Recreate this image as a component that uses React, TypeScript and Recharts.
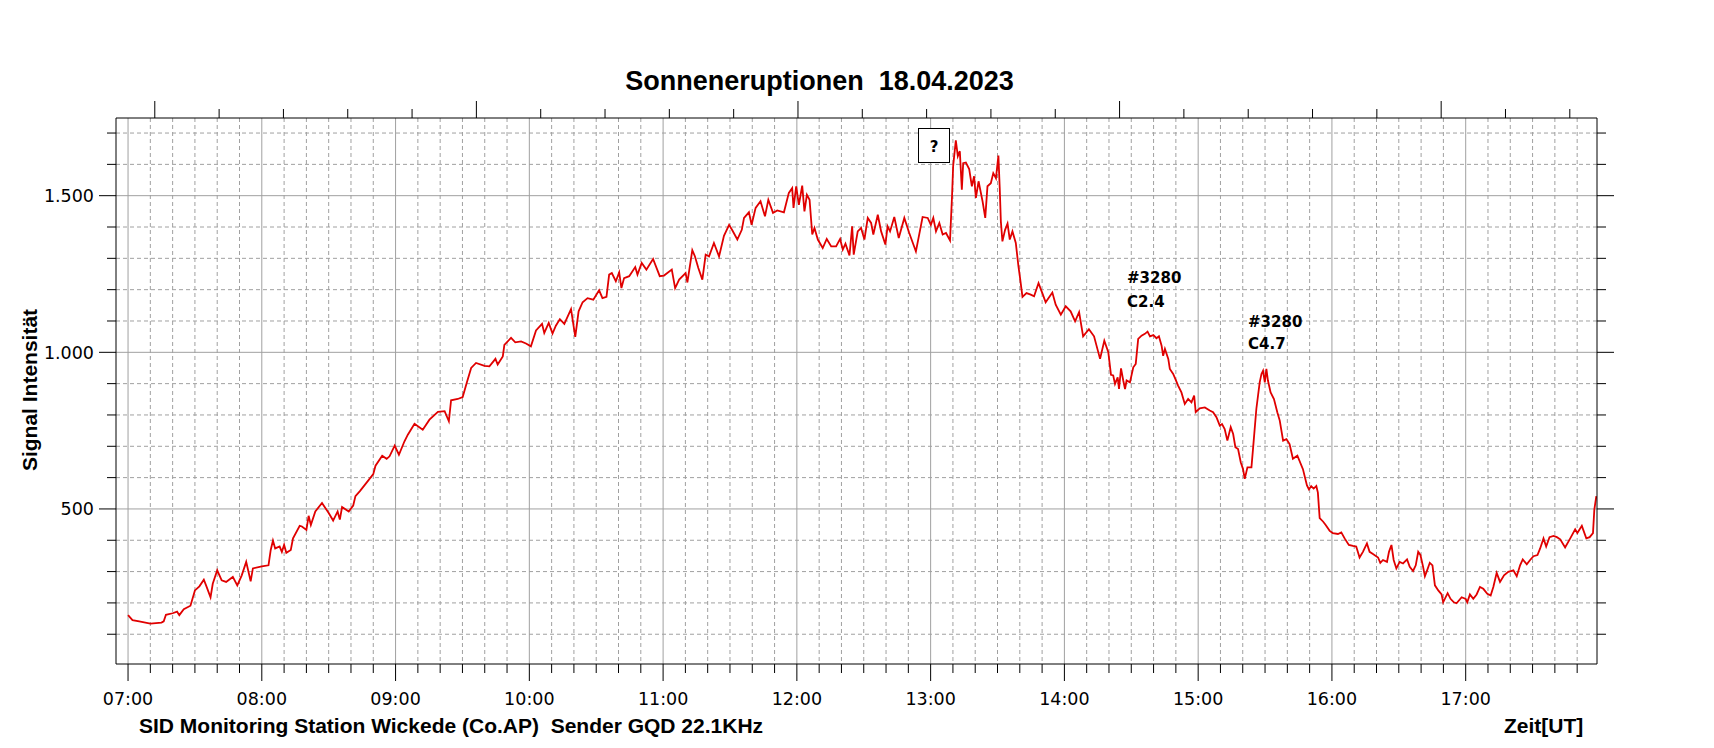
import { LineChart, Line, XAxis, YAxis, CartesianGrid } from 'recharts'

// minutes after 07:00 UT, signal value
const MORNING: [number, number][] = [
  [0, 161], [2, 145], [5, 141], [10, 134], [15, 137], [16, 141], [17, 162], [20, 167], [22, 172], [23, 161],
  [25, 180], [28, 191], [30, 240], [32, 253], [34, 274], [35, 256], [37, 218], [38, 261], [40, 304], [42, 272],
  [44, 267], [47, 283], [49, 256], [51, 288], [53, 331], [55, 269], [56, 310], [60, 317], [63, 320], [64, 369],
  [65, 399], [66, 374], [68, 380], [69, 363], [70, 385], [71, 360], [73, 369], [74, 406], [77, 446], [78, 444],
  [80, 433], [81, 478], [82, 449], [84, 492], [87, 519], [90, 487], [92, 463], [94, 492], [95, 466], [96, 506],
  [99, 492], [101, 511], [102, 541], [104, 557], [107, 584], [110, 611], [111, 638], [114, 670], [116, 660],
]

const FORENOON: [number, number][] = [
  [117.3, 668], [119.6, 702], [121.5, 673], [124, 716], [125.5, 737], [128.5, 772], [132.2, 753], [135.2, 785],
  [139, 810], [142, 812], [143.9, 780], [144.9, 847], [147.9, 851], [150.1, 857], [151.9, 902], [153.9, 950],
  [156.1, 966], [159.9, 957], [162.1, 955], [164.8, 979], [165.8, 961], [168.1, 987], [168.8, 1024], [171.8, 1046],
  [173.7, 1032], [176.3, 1035], [178.5, 1028], [180.7, 1019], [183, 1070], [185.7, 1091], [186.7, 1062], [188.7, 1094],
  [190.4, 1060], [191.9, 1085], [193.7, 1106], [195.7, 1091], [198.7, 1138], [200.6, 1049], [202.1, 1131], [203.9, 1160],
  [206.1, 1173], [208.7, 1168], [211.3, 1198], [212.8, 1173], [214.6, 1177], [215.8, 1248], [217, 1253], [218.8, 1227],
  [220.3, 1255], [221.3, 1205], [222.5, 1237], [224.8, 1243], [227.5, 1272], [228.5, 1248], [230.4, 1285], [232.5, 1264],
  [235.5, 1298], [238.5, 1243], [240.4, 1245], [243.9, 1264], [245.4, 1205], [247.2, 1232], [250.1, 1253], [250.9, 1223],
  [253.1, 1326], [254.3, 1306], [255.8, 1269], [257.6, 1232], [259.1, 1312], [260.6, 1306], [262.8, 1349], [265.1, 1306],
  [267.3, 1372], [269.6, 1407], [271.1, 1389], [273.3, 1360], [275.3, 1391], [276.3, 1429], [278.5, 1447], [279.7, 1407],
  [281.5, 1461], [283.7, 1482], [285.7, 1434], [287.2, 1487], [289.3, 1445], [291.2, 1453], [294.2, 1447], [296.4, 1509],
]

const MIDDAY: [number, number][] = [
  [297.9, 1524], [298.5, 1461], [299.7, 1530], [300.9, 1471], [302.4, 1532], [303.4, 1450], [304.5, 1503], [305.7, 1487],
  [306.9, 1376], [307.9, 1397], [309.4, 1360], [311.6, 1333], [313.4, 1362], [315.4, 1338], [317.6, 1338], [319.4, 1362],
  [320.6, 1328], [321.8, 1347], [323.6, 1309], [324.8, 1402], [325.5, 1312], [327.3, 1386], [328.8, 1397], [330.3, 1360],
  [331.8, 1429], [333.3, 1413], [334.3, 1376], [336.3, 1439], [337.8, 1386], [339.7, 1344], [340.7, 1402], [341.8, 1386],
  [343.7, 1432], [345.7, 1365], [348.2, 1429], [350.4, 1381], [353.4, 1322], [356.4, 1432], [358.7, 1429], [360.1, 1407],
  [361.2, 1429], [362.4, 1386], [363.9, 1413], [365.4, 1376], [366.9, 1381], [368.7, 1357], [369.6, 1498], [370.1, 1594],
  [371.3, 1677], [372.2, 1626], [373.1, 1642], [374, 1519], [374.6, 1604], [375.8, 1606], [377.3, 1585], [378.5, 1530],
  [379.5, 1562], [380.3, 1493], [381.5, 1546], [383.3, 1482], [384.5, 1429], [385.5, 1530], [387, 1540], [388.1, 1572],
  [389.3, 1556], [390.4, 1628], [391, 1524], [391.5, 1418], [392.2, 1354], [393.4, 1391], [394.5, 1411], [395.5, 1360],
  [396.7, 1386], [398.2, 1349], [399.4, 1274], [400, 1243], [401.2, 1177], [403, 1189], [404.9, 1184], [406.4, 1179],
  [408.4, 1221], [410.1, 1189], [411.6, 1160], [414.6, 1191], [416.1, 1152], [418.4, 1120], [420.6, 1147], [422.8, 1131],
  [424.8, 1099], [426.6, 1128], [428.4, 1051], [431, 1074], [433.3, 1051],
]

const FLARES: [number, number][] = [
  [436, 979], [437.9, 1037], [439.7, 1000], [440.9, 928], [441.9, 926], [442.7, 899], [443.9, 920], [444.5, 883],
  [445.4, 949], [446.4, 910], [447.2, 883], [447.9, 910], [449.4, 904], [450.9, 952], [452, 963], [453.1, 1043],
  [454.6, 1053], [456.1, 1059], [457.3, 1066], [458.4, 1051], [459.9, 1055], [461.3, 1045], [462.4, 1051], [463.6, 1021],
  [464.3, 989], [465.1, 1011], [466.6, 979], [467.3, 947], [468.8, 931], [469.9, 913], [471, 894], [472.5, 872],
  [474, 835], [475.5, 851], [477, 840], [478.2, 862], [478.9, 809], [480.7, 821], [483, 824], [485.2, 814],
  [486.7, 809], [488.2, 793], [489.7, 766], [490.7, 771], [491.9, 755], [493.1, 718], [494.6, 761], [495.7, 739],
  [496.7, 697], [497.9, 691], [499.1, 649], [500.1, 628], [500.9, 596], [502.1, 633], [503.9, 633], [504.6, 691],
  [506.1, 819], [507.6, 904], [508.4, 931], [509.1, 941], [509.9, 904], [510.6, 947], [511.3, 910], [512.5, 872],
  [514, 851], [515.5, 809], [516.6, 782], [518.1, 718], [519.6, 723], [521, 707], [522.5, 660], [524.5, 670],
]

const EVENING: [number, number][] = [
  [527, 627], [528.8, 575], [529.7, 562], [530.7, 573], [531.8, 565], [533, 573], [533.7, 552], [534.5, 471],
  [536, 460], [537.2, 449], [539, 430], [540.4, 423], [542.7, 420], [544.2, 425], [545.7, 406], [547.6, 385],
  [549.4, 382], [550.9, 380], [552.4, 345], [553.9, 363], [555.7, 390], [556.9, 363], [558.4, 356], [560.7, 345],
  [561.7, 328], [562.9, 337], [564.7, 331], [565.6, 363], [566.7, 385], [567.7, 337], [568.9, 310], [570.4, 331],
  [571.9, 326], [573.7, 339], [574.9, 315], [576.4, 302], [577.6, 320], [578.7, 363], [579.7, 353], [580.9, 315],
  [581.7, 285], [582.7, 304], [583.9, 328], [585.1, 320], [586.2, 256], [587.7, 240], [589.2, 227], [589.9, 202],
  [591.9, 231], [593.2, 213], [594.7, 202], [595.9, 199], [598.2, 218], [600, 213], [600.7, 202], [601.9, 227],
  [603.4, 213], [604.9, 227], [606.4, 251], [607.9, 245], [609.7, 229], [611.2, 224], [612.4, 251], [613.9, 296],
  [615.4, 267], [617.2, 288], [619.1, 299], [621.4, 304], [622.9, 285], [624.4, 320], [625.6, 339], [627.4, 323],
  [628.9, 337], [630.4, 349], [632.2, 353], [633.4, 374], [634.9, 406], [636.1, 380], [637.6, 410], [639.4, 414],
  [640.9, 410], [642.4, 403], [644.6, 377], [646.9, 406], [649.1, 435], [650.1, 423], [652.1, 446], [654.1, 406],
  [655.6, 410], [657.1, 423], [657.7, 498], [658.6, 541],
]

const HOUR_LABELS = ['07:00', '08:00', '09:00', '10:00', '11:00', '12:00', '13:00', '14:00', '15:00', '16:00', '17:00']
const X_TICKS = Array.from({ length: 66 }, (_, i) => i * 10)
const X_MAJOR = X_TICKS.filter((t) => t % 60 === 0)
const X_MINOR = X_TICKS.filter((t) => t % 60 !== 0)
const Y_TICKS = [100, 200, 300, 400, 500, 600, 700, 800, 900, 1000, 1100, 1200, 1300, 1400, 1500, 1600, 1700]
const Y_MAJOR = [500, 1000, 1500]
const Y_MINOR = Y_TICKS.filter((v) => !Y_MAJOR.includes(v))
// top scale: unlabeled ticks every ~28.85 min, long one every fifth
const TOP_TICKS = Array.from({ length: 23 }, (_, i) => +(12 + i * 28.85).toFixed(2))
const TOP_MAJOR = TOP_TICKS.filter((_, i) => i % 5 === 0)

const data = [...MORNING, ...FORENOON, ...MIDDAY, ...FLARES, ...EVENING].map(([t, v]) => ({ t, v }))

const X_DOMAIN: [number, number] = [-5.4, 658.9]
const Y_DOMAIN: [number, number] = [5, 1748]
const GRID = '#a0a0a0'
const BOLD = '"Liberation Sans", Arial, sans-serif'
const VERDANA = '"DejaVu Sans", Verdana, sans-serif'

const fmtY = (v: number) =>
  v >= 1000 ? `${Math.floor(v / 1000)}.${String(v % 1000).padStart(3, '0')}` : String(v)

function BottomTick({ x, y, payload }: any) {
  const major = payload.value % 60 === 0
  return (
    <g>
      <line x1={x} y1={y} x2={x} y2={y + (major ? 17 : 9)} stroke="#000" />
      {major && (
        <text x={x} y={y + 41} textAnchor="middle" fontFamily={VERDANA} fontSize={17.5} fill="#000">
          {HOUR_LABELS[payload.value / 60]}
        </text>
      )}
    </g>
  )
}

function TopTick({ x, y, payload }: any) {
  const major = TOP_MAJOR.includes(payload.value)
  return <line x1={x} y1={y} x2={x} y2={y - (major ? 17 : 9)} stroke="#000" />
}

function LeftTick({ x, y, payload }: any) {
  const major = Y_MAJOR.includes(payload.value)
  return (
    <g>
      <line x1={x - (major ? 17 : 9)} y1={y} x2={x} y2={y} stroke="#000" />
      {major && (
        <text x={x - 22} y={y} dy="0.36em" textAnchor="end" fontFamily={VERDANA} fontSize={17.5} fill="#000">
          {fmtY(payload.value)}
        </text>
      )}
    </g>
  )
}

function RightTick({ x, y, payload }: any) {
  const major = Y_MAJOR.includes(payload.value)
  return <line x1={x} y1={y} x2={x + (major ? 17 : 9)} y2={y} stroke="#000" />
}

export default function App() {
  return (
    <div style={{ position: 'absolute', left: 0, top: 0, width: 1714, height: 748, background: '#fff' }}>
      <LineChart width={1714} height={748} data={data} margin={{ top: 117, right: 116, bottom: 83, left: 115 }}>
        <CartesianGrid verticalValues={X_MINOR} horizontalValues={Y_MINOR} stroke={GRID} strokeDasharray="4 3" />
        <CartesianGrid verticalValues={X_MAJOR} horizontalValues={Y_MAJOR} stroke={GRID} />
        <XAxis
          dataKey="t"
          type="number"
          domain={X_DOMAIN}
          allowDataOverflow
          ticks={X_TICKS}
          interval={0}
          height={1}
          tickSize={0}
          tickMargin={0}
          tickLine={false}
          axisLine={{ stroke: '#000' }}
          tick={BottomTick}
        />
        <XAxis
          xAxisId="top"
          orientation="top"
          dataKey="t"
          type="number"
          domain={X_DOMAIN}
          allowDataOverflow
          ticks={TOP_TICKS}
          interval={0}
          height={1}
          tickSize={0}
          tickMargin={0}
          tickLine={false}
          axisLine={{ stroke: '#000' }}
          tick={TopTick}
        />
        <YAxis
          type="number"
          domain={Y_DOMAIN}
          allowDataOverflow
          ticks={Y_TICKS}
          interval={0}
          width={1}
          tickSize={0}
          tickMargin={0}
          tickLine={false}
          axisLine={{ stroke: '#000' }}
          tick={LeftTick}
        />
        <YAxis
          yAxisId="right"
          orientation="right"
          type="number"
          domain={Y_DOMAIN}
          allowDataOverflow
          ticks={Y_TICKS}
          interval={0}
          width={1}
          tickSize={0}
          tickMargin={0}
          tickLine={false}
          axisLine={{ stroke: '#000' }}
          tick={RightTick}
        />
        <Line
          dataKey="v"
          type="linear"
          stroke="#e00000"
          strokeWidth={1.8}
          dot={false}
          isAnimationActive={false}
        />
      </LineChart>
      <svg width={1714} height={748} style={{ position: 'absolute', left: 0, top: 0, pointerEvents: 'none' }}>
        <text
          x={819.5}
          y={90}
          textAnchor="middle"
          fontFamily={BOLD}
          fontWeight="bold"
          fontSize={27}
          style={{ whiteSpace: 'pre' }}
        >
          Sonneneruptionen  18.04.2023
        </text>
        <text
          x={37}
          y={390}
          transform="rotate(-90 37 390)"
          textAnchor="middle"
          fontFamily={BOLD}
          fontWeight="bold"
          fontSize={21}
        >
          Signal Intensität
        </text>
        <text x={139} y={733} fontFamily={BOLD} fontWeight="bold" fontSize={21} style={{ whiteSpace: 'pre' }}>
          SID Monitoring Station Wickede (Co.AP)  Sender GQD 22.1KHz
        </text>
        <text x={1504} y={733} fontFamily={BOLD} fontWeight="bold" fontSize={21}>
          Zeit[UT]
        </text>
        <rect x={918.5} y={128.5} width={31} height={34} fill="#fff" stroke="#000" />
        <text x={934} y={152} textAnchor="middle" fontFamily={VERDANA} fontWeight="bold" fontSize={15}>
          ?
        </text>
        <g fontFamily={VERDANA} fontWeight="bold" fontSize={15}>
          <text x={1127} y={283}>#3280</text>
          <text x={1127} y={307}>C2.4</text>
          <text x={1248} y={327}>#3280</text>
          <text x={1248} y={349}>C4.7</text>
        </g>
      </svg>
    </div>
  )
}
